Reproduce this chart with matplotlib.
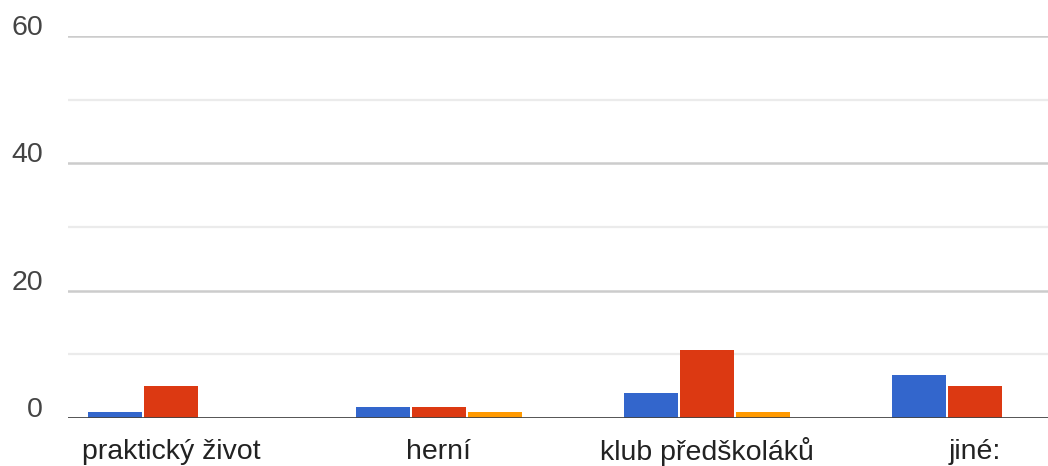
import matplotlib
matplotlib.use("Agg")
import matplotlib.pyplot as plt
import numpy as np

categories = ["praktický život", "herní", "klub předškoláků", "jiné:"]
series_blue = [1, 1.7, 4, 6.8]
series_red = [5, 1.7, 10.7, 5]
series_orange = [0, 1, 1, 0]
colors = ["#3366cc", "#dc3912", "#ff9900"]
y_major = [0, 20, 40, 60]
y_minor = [10, 30, 50]

plt.rcParams['font.family'] = ['Liberation Sans', 'DejaVu Sans']

W, H = 1048, 466
fig = plt.figure(figsize=(W / 100, H / 100), dpi=100)
ax = fig.add_axes([68 / W, 48 / H, 1 - 68 / W, 382 / H])

x = np.arange(len(categories))
step = 0.209
bw = 0.198
for i, (vals, c) in enumerate(zip([series_blue, series_red, series_orange], colors)):
    ax.bar(x + (i - 1) * step, vals, width=bw, color=c, zorder=3, linewidth=0)

ax.set_ylim(0, 60)
ax.set_xlim((68 - 171) / 268, (1048 - 171) / 268)

for v in y_minor:
    ax.axhline(v, color="#ebebeb", lw=1.6, zorder=1)
for v in y_major[1:]:
    ax.axhline(v, color="#cccccc", lw=1.8, zorder=1)
ax.axhline(0, color="#444444", lw=2.0, zorder=4)

for s in ax.spines.values():
    s.set_visible(False)
ax.set_xticks([])
ax.set_yticks([])

for v in y_major:
    ax.annotate(str(v), xy=(0, v), xycoords=('axes fraction', 'data'),
                xytext=(-25, 8), textcoords='offset pixels',
                ha='right', va='center', fontsize=20.5, color="#444444")

for xi, lab in zip(x, categories):
    ax.annotate(lab, xy=(xi, 0), xycoords='data',
                xytext=(0, -34), textcoords='offset pixels',
                ha='center', va='center', fontsize=20.5, color="#222222")

fig.savefig("out.png", dpi=100)
